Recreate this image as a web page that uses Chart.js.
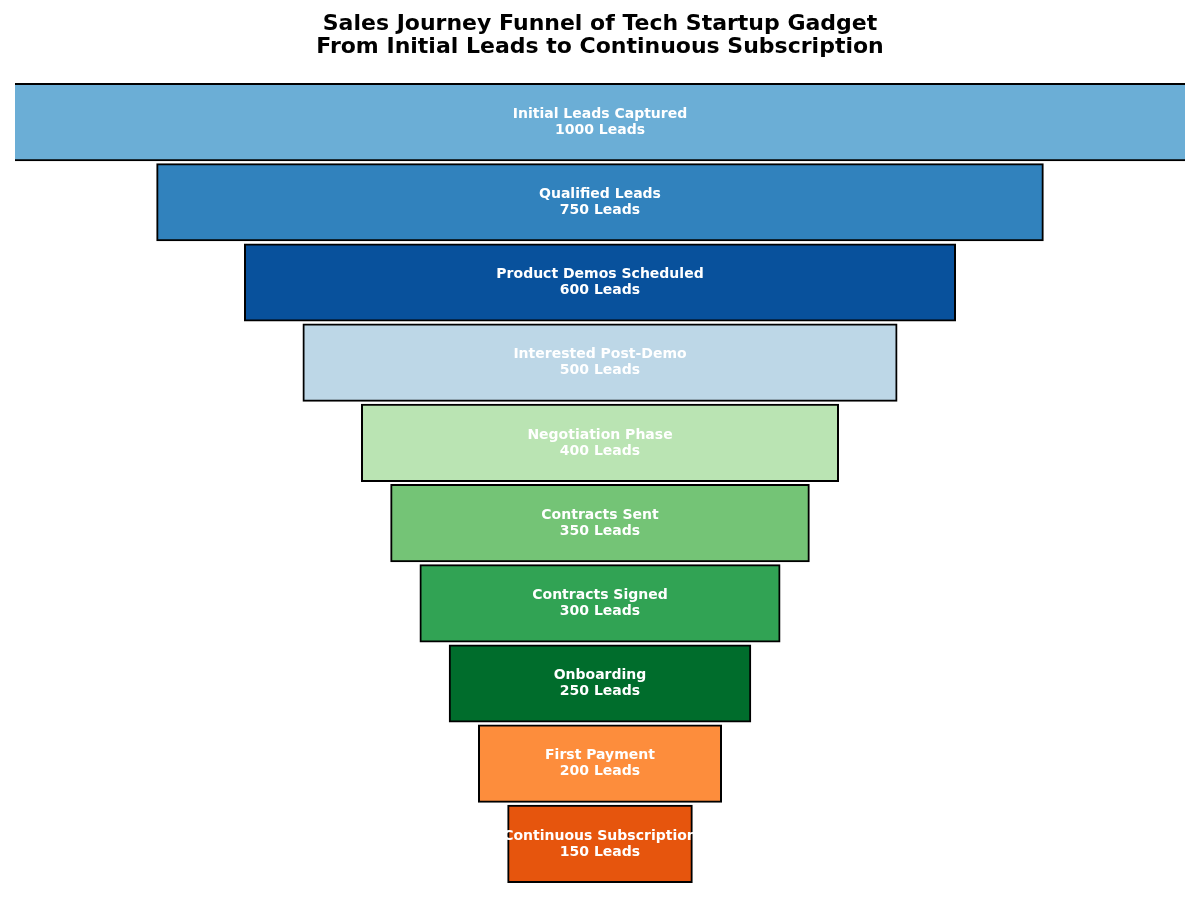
<!DOCTYPE html>
<html>
<head>
<meta charset="utf-8">
<script src="https://cdn.jsdelivr.net/npm/chart.js@4.4.0/dist/chart.umd.min.js"></script>
<style>
  html, body { margin: 0; padding: 0; background: #fff; }
  #wrap { width: 1200px; height: 900px; }
</style>
</head>
<body>
<div id="wrap"><canvas id="funnel__chart"></canvas></div>
<script>
// funnel stages, top to bottom
var stages = ['Initial Leads Captured', 'Qualified Leads', 'Product Demos Scheduled', 'Interested Post-Demo',
    'Negotiation Phase', 'Contracts Sent', 'Contracts Signed', 'Onboarding', 'First Payment', 'Continuous Subscription'];
var leads = [1000, 750, 600, 500, 400, 350, 300, 250, 200, 150];
var colors = ['#6baed6', '#3182bd', '#08519c', '#bdd7e7', '#bae4b3', '#74c476', '#31a354', '#006d2c', '#fd8d3c', '#e6550d'];

// centered bars: each one spans -v/2 .. v/2
var spans = leads.map(function (v) { return [-v / 2, v / 2]; });

var barLabels = {
    id: 'barLabels',
    afterDatasetsDraw: function (chart) {
        var ctx = chart.ctx;
        var meta = chart.getDatasetMeta(0);
        ctx.save();
        ctx.fillStyle = '#ffffff';
        ctx.font = 'bold 14px "DejaVu Sans"';
        ctx.textAlign = 'center';
        ctx.textBaseline = 'middle';
        meta.data.forEach(function (bar, i) {
            var cx = chart.scales.x.getPixelForValue(0);
            ctx.fillText(stages[i], cx, bar.y - 8);
            ctx.fillText(leads[i] + ' Leads', cx, bar.y + 8);
        });
        ctx.restore();
    }
};

var ctx = document.getElementById('funnel__chart');
var funnel__chart = new Chart(ctx, {
    type: 'bar',
    data: {
        labels: stages,
        datasets: [{
            data: spans,
            backgroundColor: colors,
            borderColor: '#000000',
            borderWidth: 2,
            borderSkipped: false,
            inflateAmount: 5,
            barPercentage: 1,
            categoryPercentage: 0.85,
            clip: 0
        }]
    },
    options: {
        indexAxis: 'y',
        responsive: true,
        maintainAspectRatio: false,
        animation: false,
        layout: { padding: { left: 15, right: 15, top: 0, bottom: 16 } },
        plugins: {
            legend: { display: false },
            tooltip: { enabled: false },
            title: {
                display: true,
                text: ['Sales Journey Funnel of Tech Startup Gadget', 'From Initial Leads to Continuous Subscription'],
                color: '#000000',
                font: { family: 'DejaVu Sans', size: 22, weight: 'bold', lineHeight: 1.045 },
                padding: { top: 13, bottom: 23 }
            }
        },
        scales: {
            x: { display: false, min: -500, max: 500 },
            y: { display: false }
        }
    },
    plugins: [barLabels]
});
</script>
</body>
</html>
